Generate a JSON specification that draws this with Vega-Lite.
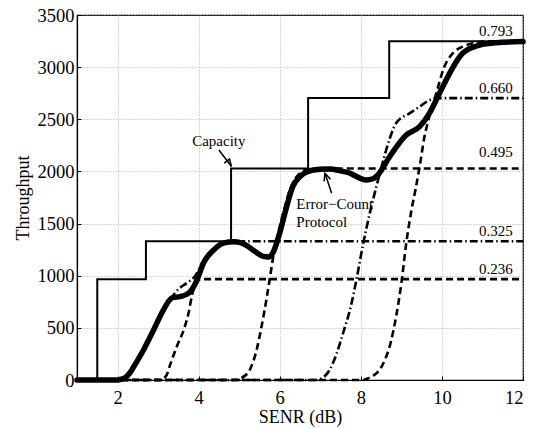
{
  "$schema": "https://vega.github.io/schema/vega-lite/v6.json",
  "width": 446,
  "height": 365,
  "autosize": "none",
  "padding": {"left": 77, "top": 15, "right": 16, "bottom": 48},
  "background": "white",
  "config": {
    "font": "Liberation Serif",
    "view": {"stroke": "black", "strokeWidth": 1.2},
    "axis": {
      "labelFont": "Liberation Serif", "titleFont": "Liberation Serif",
      "labelFontSize": 18.5, "titleFontSize": 18, "titleFontWeight": "normal",
      "labelColor": "black", "titleColor": "black",
      "domainColor": "black", "domainWidth": 1.2,
      "tickColor": "black", "tickSize": -4, "tickWidth": 1,
      "grid": true, "gridColor": "#999", "gridDash": [1, 2], "gridWidth": 0.8
    }
  },
  "datasets": {
    "curves": [
      {"s": "cap", "x": 1, "y": 0}, {"s": "cap", "x": 1.5, "y": 0}, {"s": "cap", "x": 1.5, "y": 967},
      {"s": "cap", "x": 2.7, "y": 967}, {"s": "cap", "x": 2.7, "y": 1331}, {"s": "cap", "x": 4.8, "y": 1331},
      {"s": "cap", "x": 4.8, "y": 2028}, {"s": "cap", "x": 6.7, "y": 2028}, {"s": "cap", "x": 6.7, "y": 2703},
      {"s": "cap", "x": 8.7, "y": 2703}, {"s": "cap", "x": 8.7, "y": 3248}, {"s": "cap", "x": 12, "y": 3248},

      {"s": "r236", "x": 1, "y": 0}, {"s": "r236", "x": 3.05, "y": 0}, {"s": "r236", "x": 3.2, "y": 40},
      {"s": "r236", "x": 3.3, "y": 150}, {"s": "r236", "x": 3.46, "y": 320}, {"s": "r236", "x": 3.64, "y": 490},
      {"s": "r236", "x": 3.75, "y": 640}, {"s": "r236", "x": 3.83, "y": 800}, {"s": "r236", "x": 3.9, "y": 900},
      {"s": "r236", "x": 3.97, "y": 950}, {"s": "r236", "x": 4.1, "y": 967}, {"s": "r236", "x": 12, "y": 967},

      {"s": "r325", "x": 1, "y": 0}, {"s": "r325", "x": 2.05, "y": 0}, {"s": "r325", "x": 2.2, "y": 20},
      {"s": "r325", "x": 2.4, "y": 120}, {"s": "r325", "x": 2.64, "y": 290}, {"s": "r325", "x": 2.89, "y": 480},
      {"s": "r325", "x": 3.13, "y": 670}, {"s": "r325", "x": 3.35, "y": 800}, {"s": "r325", "x": 3.5, "y": 870},
      {"s": "r325", "x": 3.71, "y": 930}, {"s": "r325", "x": 3.9, "y": 990}, {"s": "r325", "x": 4.1, "y": 1130},
      {"s": "r325", "x": 4.35, "y": 1250}, {"s": "r325", "x": 4.6, "y": 1310}, {"s": "r325", "x": 4.9, "y": 1331},
      {"s": "r325", "x": 12, "y": 1331},

      {"s": "r495", "x": 1, "y": 0}, {"s": "r495", "x": 4.9, "y": 0}, {"s": "r495", "x": 5.1, "y": 30},
      {"s": "r495", "x": 5.26, "y": 96}, {"s": "r495", "x": 5.43, "y": 288}, {"s": "r495", "x": 5.55, "y": 511},
      {"s": "r495", "x": 5.67, "y": 767}, {"s": "r495", "x": 5.75, "y": 959}, {"s": "r495", "x": 5.84, "y": 1182},
      {"s": "r495", "x": 5.96, "y": 1406}, {"s": "r495", "x": 6.1, "y": 1620}, {"s": "r495", "x": 6.25, "y": 1822},
      {"s": "r495", "x": 6.4, "y": 1940}, {"s": "r495", "x": 6.6, "y": 2010}, {"s": "r495", "x": 6.8, "y": 2028},
      {"s": "r495", "x": 12, "y": 2028},

      {"s": "r660", "x": 1, "y": 0}, {"s": "r660", "x": 6.9, "y": 0}, {"s": "r660", "x": 7.0, "y": 10},
      {"s": "r660", "x": 7.23, "y": 96}, {"s": "r660", "x": 7.4, "y": 250}, {"s": "r660", "x": 7.56, "y": 447},
      {"s": "r660", "x": 7.75, "y": 700}, {"s": "r660", "x": 7.89, "y": 959}, {"s": "r660", "x": 8.05, "y": 1290},
      {"s": "r660", "x": 8.22, "y": 1598}, {"s": "r660", "x": 8.4, "y": 1880}, {"s": "r660", "x": 8.55, "y": 2100},
      {"s": "r660", "x": 8.7, "y": 2300}, {"s": "r660", "x": 8.87, "y": 2462}, {"s": "r660", "x": 9.2, "y": 2557},
      {"s": "r660", "x": 9.45, "y": 2620}, {"s": "r660", "x": 9.65, "y": 2675}, {"s": "r660", "x": 9.86, "y": 2700},
      {"s": "r660", "x": 10.0, "y": 2703}, {"s": "r660", "x": 12, "y": 2703},

      {"s": "r793", "x": 1, "y": 0}, {"s": "r793", "x": 8.05, "y": 0}, {"s": "r793", "x": 8.13, "y": 10},
      {"s": "r793", "x": 8.3, "y": 40}, {"s": "r793", "x": 8.46, "y": 96}, {"s": "r793", "x": 8.6, "y": 200},
      {"s": "r793", "x": 8.71, "y": 320}, {"s": "r793", "x": 8.87, "y": 607}, {"s": "r793", "x": 9.0, "y": 927},
      {"s": "r793", "x": 9.12, "y": 1311}, {"s": "r793", "x": 9.25, "y": 1630}, {"s": "r793", "x": 9.35, "y": 1830},
      {"s": "r793", "x": 9.45, "y": 2045}, {"s": "r793", "x": 9.57, "y": 2333}, {"s": "r793", "x": 9.69, "y": 2525},
      {"s": "r793", "x": 9.86, "y": 2749}, {"s": "r793", "x": 10.06, "y": 3004}, {"s": "r793", "x": 10.27, "y": 3133},
      {"s": "r793", "x": 10.51, "y": 3196}, {"s": "r793", "x": 10.76, "y": 3228}, {"s": "r793", "x": 11.0, "y": 3245},
      {"s": "r793", "x": 12, "y": 3248},

      {"s": "ec", "x": 1, "y": 0}, {"s": "ec", "x": 2.0, "y": 0}, {"s": "ec", "x": 2.1, "y": 8},
      {"s": "ec", "x": 2.2, "y": 25}, {"s": "ec", "x": 2.3, "y": 67}, {"s": "ec", "x": 2.45, "y": 160},
      {"s": "ec", "x": 2.64, "y": 288}, {"s": "ec", "x": 2.89, "y": 480}, {"s": "ec", "x": 3.13, "y": 671},
      {"s": "ec", "x": 3.34, "y": 786}, {"s": "ec", "x": 3.54, "y": 800}, {"s": "ec", "x": 3.7, "y": 820},
      {"s": "ec", "x": 3.8, "y": 850}, {"s": "ec", "x": 3.95, "y": 950}, {"s": "ec", "x": 4.12, "y": 1122},
      {"s": "ec", "x": 4.37, "y": 1247}, {"s": "ec", "x": 4.61, "y": 1313}, {"s": "ec", "x": 4.86, "y": 1325},
      {"s": "ec", "x": 5.05, "y": 1315}, {"s": "ec", "x": 5.2, "y": 1285}, {"s": "ec", "x": 5.4, "y": 1230},
      {"s": "ec", "x": 5.6, "y": 1185}, {"s": "ec", "x": 5.72, "y": 1180}, {"s": "ec", "x": 5.83, "y": 1218},
      {"s": "ec", "x": 6.0, "y": 1410}, {"s": "ec", "x": 6.17, "y": 1662}, {"s": "ec", "x": 6.32, "y": 1854},
      {"s": "ec", "x": 6.5, "y": 1950}, {"s": "ec", "x": 6.7, "y": 2000}, {"s": "ec", "x": 6.99, "y": 2020},
      {"s": "ec", "x": 7.23, "y": 2023}, {"s": "ec", "x": 7.5, "y": 2005}, {"s": "ec", "x": 7.72, "y": 1985},
      {"s": "ec", "x": 7.9, "y": 1950}, {"s": "ec", "x": 8.13, "y": 1918}, {"s": "ec", "x": 8.3, "y": 1930},
      {"s": "ec", "x": 8.42, "y": 1966}, {"s": "ec", "x": 8.71, "y": 2141}, {"s": "ec", "x": 9.12, "y": 2349},
      {"s": "ec", "x": 9.45, "y": 2429}, {"s": "ec", "x": 9.69, "y": 2557}, {"s": "ec", "x": 9.94, "y": 2749},
      {"s": "ec", "x": 10.19, "y": 2941}, {"s": "ec", "x": 10.51, "y": 3133}, {"s": "ec", "x": 10.93, "y": 3212},
      {"s": "ec", "x": 11.34, "y": 3235}, {"s": "ec", "x": 12, "y": 3245}
    ],
    "arrows": [
      {"a": "cap", "x": 4.5, "y": 2205}, {"a": "cap", "x": 4.81, "y": 2047},
      {"a": "capw1", "x": 4.761, "y": 2119}, {"a": "capw1", "x": 4.81, "y": 2047}, {"a": "capw1", "x": 4.633, "y": 2079},
      {"a": "ec", "x": 7.28, "y": 1790}, {"a": "ec", "x": 7.116, "y": 1982},
      {"a": "ecw", "x": 7.094, "y": 1905}, {"a": "ecw", "x": 7.116, "y": 1982}, {"a": "ecw", "x": 7.252, "y": 1926}
    ],
    "rates": [
      {"label": "0.793", "x": 11.75, "y": 3248},
      {"label": "0.660", "x": 11.75, "y": 2703},
      {"label": "0.495", "x": 11.75, "y": 2090},
      {"label": "0.325", "x": 11.75, "y": 1331},
      {"label": "0.236", "x": 11.75, "y": 967}
    ],
    "notes": [
      {"t": "Capacity", "x": 3.84, "y": 2292},
      {"t": "Error−Count", "x": 6.41, "y": 1690},
      {"t": "Protocol", "x": 6.41, "y": 1515}
    ]
  },
  "encoding": {
    "x": {"field": "x", "type": "quantitative", "scale": {"domain": [1, 12], "nice": false},
          "axis": {"values": [2, 4, 6, 8, 10, 12], "format": "d", "title": "SENR (dB)", "titlePadding": 2, "labelPadding": 12}},
    "y": {"field": "y", "type": "quantitative", "scale": {"domain": [0, 3500], "nice": false},
          "axis": {"values": [0, 500, 1000, 1500, 2000, 2500, 3000, 3500], "format": "d", "title": "Throughput", "titlePadding": 5, "labelPadding": 7}}
  },
  "layer": [
    {
      "data": {"name": "curves"},
      "transform": [{"filter": "datum.s === 'cap'"}],
      "mark": {"type": "line", "color": "black", "strokeWidth": 2, "interpolate": "linear"}
    },
    {
      "data": {"name": "curves"},
      "transform": [{"filter": "datum.s === 'r236' || datum.s === 'r495' || datum.s === 'r793'"}],
      "mark": {"type": "line", "color": "black", "strokeWidth": 2.6, "strokeDash": [7, 4], "interpolate": "monotone"},
      "encoding": {"detail": {"field": "s"}}
    },
    {
      "data": {"name": "curves"},
      "transform": [{"filter": "datum.s === 'r325' || datum.s === 'r660'"}],
      "mark": {"type": "line", "color": "black", "strokeWidth": 2.6, "strokeDash": [8, 3, 1.5, 3], "interpolate": "monotone"},
      "encoding": {"detail": {"field": "s"}}
    },
    {
      "data": {"name": "curves"},
      "transform": [{"filter": "datum.s === 'ec'"}],
      "mark": {"type": "line", "color": "black", "strokeWidth": 5.5, "interpolate": "monotone", "strokeCap": "round", "strokeJoin": "round"}
    },
    {
      "data": {"name": "arrows"},
      "mark": {"type": "line", "color": "black", "strokeWidth": 1.5, "interpolate": "linear"},
      "encoding": {"detail": {"field": "a"}, "order": {"value": 0}}
    },
    {
      "data": {"name": "rates"},
      "mark": {"type": "text", "align": "right", "baseline": "alphabetic", "dy": -5, "fontSize": 15, "font": "Liberation Serif", "color": "black"},
      "encoding": {"text": {"field": "label"}}
    },
    {
      "data": {"name": "notes"},
      "mark": {"type": "text", "align": "left", "baseline": "middle", "fontSize": 15, "font": "Liberation Serif", "color": "black"},
      "encoding": {"text": {"field": "t"}}
    }
  ]
}
